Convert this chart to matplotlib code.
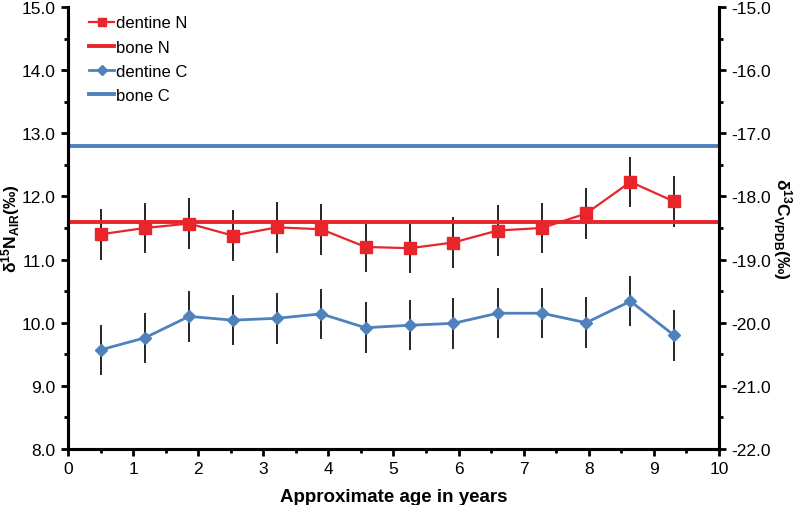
import matplotlib
matplotlib.use('Agg')
import matplotlib.pyplot as plt
from matplotlib.ticker import MultipleLocator, FormatStrFormatter
import numpy as np

plt.rcParams['font.family'] = ['Liberation Sans', 'DejaVu Sans']
plt.rcParams['mathtext.fontset'] = 'custom'
plt.rcParams['mathtext.rm'] = 'Liberation Sans'
plt.rcParams['mathtext.bf'] = 'Liberation Sans:bold'
plt.rcParams['mathtext.it'] = 'Liberation Sans:italic'

# data
age = [0.5, 1.18, 1.86, 2.53, 3.21, 3.89, 4.57, 5.25, 5.92, 6.6, 7.28, 7.96, 8.64, 9.31]
dentine_N = [11.40, 11.50, 11.57, 11.38, 11.51, 11.48, 11.20, 11.18, 11.27, 11.46, 11.50, 11.73, 12.23, 11.92]
dentine_N_err = [0.4] * 14
dentine_C = [-20.43, -20.24, -19.90, -19.96, -19.93, -19.86, -20.08, -20.04, -20.01, -19.85, -19.85, -20.00, -19.66, -20.20]
dentine_C_err = [0.4] * 14
bone_N = 11.6
bone_C = -17.2

red = '#E8252B'
blue = '#4F81BD'

fig = plt.figure(figsize=(7.98, 5.06), dpi=100)
ax = fig.add_axes([0.0852, 0.1107, 0.8158, 0.8735])
ax2 = ax.twinx()

# nitrogen on left axis
ax.errorbar(age, dentine_N, yerr=dentine_N_err, fmt='none', ecolor='black', elinewidth=1.2, zorder=2)
l1, = ax.plot(age, dentine_N, color=red, lw=1.6, marker='s', ms=8, zorder=3, label='dentine N')
l2 = ax.axhline(bone_N, color=red, lw=2.8, zorder=2.5, label='bone N')

# carbon on right axis
ax2.errorbar(age, dentine_C, yerr=dentine_C_err, fmt='none', ecolor='black', elinewidth=1.2, zorder=2)
l3, = ax2.plot(age, dentine_C, color=blue, lw=2.0, marker='D', ms=6.5, zorder=3, label='dentine C')
l4 = ax2.axhline(bone_C, color=blue, lw=2.8, zorder=2.5, label='bone C')

ax.set_xlim(0, 10)
ax.set_ylim(8, 15)
ax2.set_ylim(-22, -15)

ax.xaxis.set_major_locator(MultipleLocator(1))
ax.xaxis.set_minor_locator(MultipleLocator(0.5))
ax.yaxis.set_major_locator(MultipleLocator(1))
ax.yaxis.set_minor_locator(MultipleLocator(0.5))
ax2.yaxis.set_major_locator(MultipleLocator(1))
ax2.yaxis.set_minor_locator(MultipleLocator(0.5))
ax.yaxis.set_major_formatter(FormatStrFormatter('%.1f'))
ax2.yaxis.set_major_formatter(FormatStrFormatter('%.1f'))

for a in (ax, ax2):
    for s in a.spines.values():
        s.set_linewidth(2.2)
    a.spines['top'].set_visible(False)
    a.tick_params(which='major', length=5, width=2, labelsize=12.5, pad=4)
    a.tick_params(which='minor', length=3, width=2)

ax.set_xlabel('Approximate age in years', fontsize=13.5, fontweight='bold', labelpad=8)
ax.set_ylabel(r'$\mathbf{δ^{15}N_{AIR}}$$\mathbf{(‰)}$', fontsize=12.5, va='center')
ax.yaxis.set_label_coords(-0.088, 0.5)
ax2.set_ylabel(r'$\mathbf{δ^{13}C_{VPDB}}$$\mathbf{(‰)}$', fontsize=12.5, rotation=270, va='center')
ax2.yaxis.set_label_coords(1.098, 0.5)

ax.set_zorder(ax2.get_zorder() + 1)
ax.patch.set_visible(False)

ax.legend(handles=[l1, l2, l3, l4], loc='upper left', bbox_to_anchor=(0.01, 1.015),
          frameon=False, fontsize=12, handlelength=1.5, handletextpad=0.1,
          labelspacing=0.55, markerscale=0.8)

plt.savefig('out.png', dpi=100)
